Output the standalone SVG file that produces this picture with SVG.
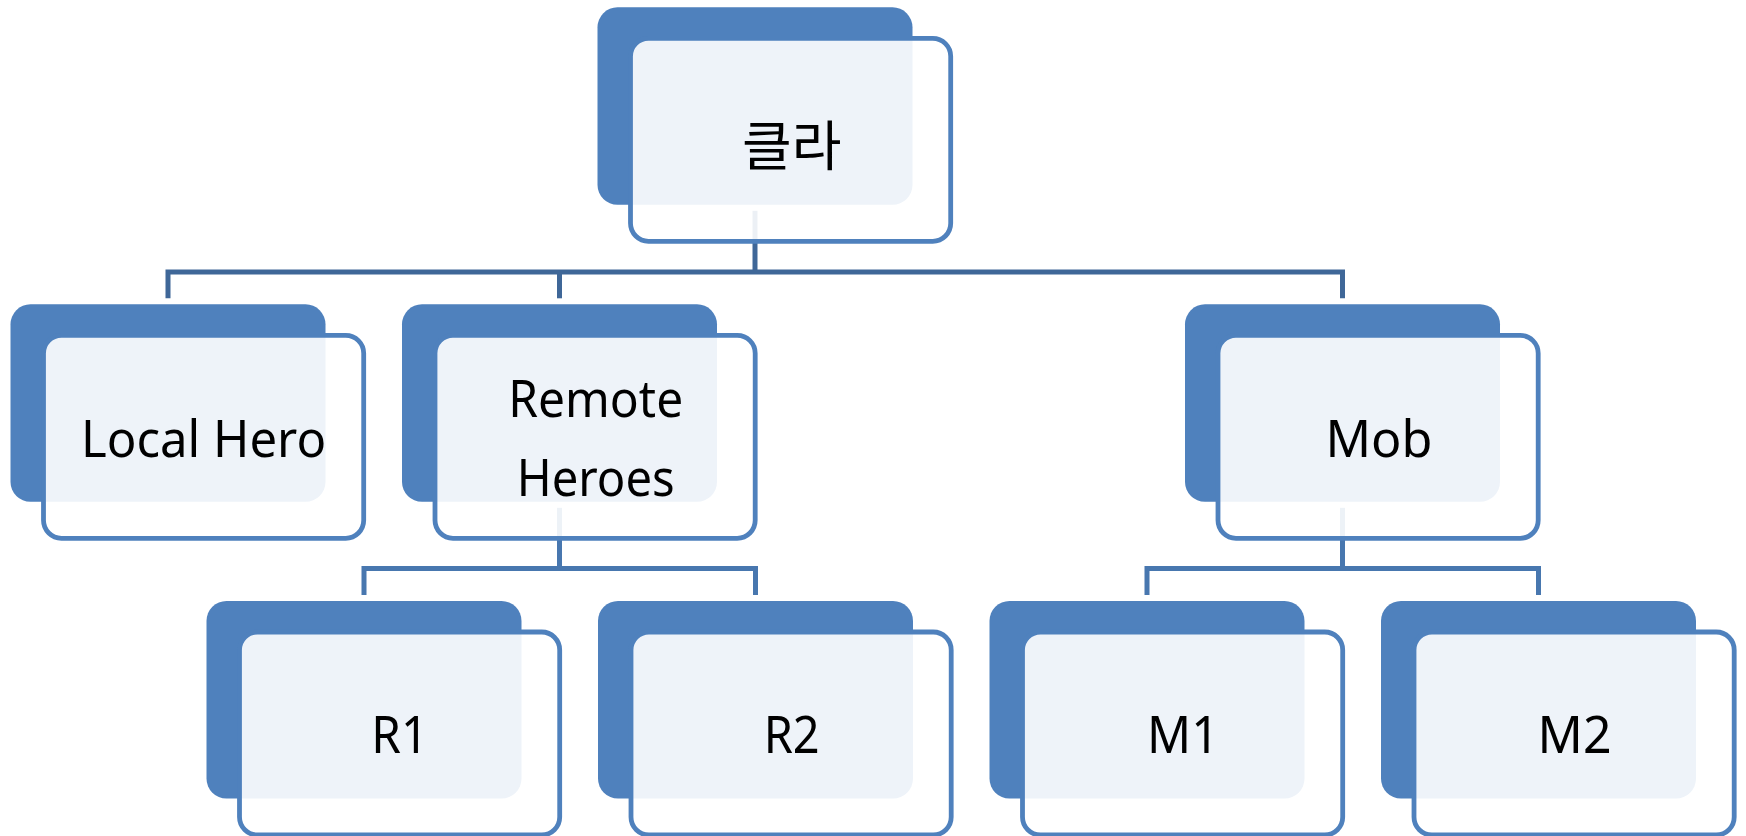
<svg xmlns="http://www.w3.org/2000/svg" width="1746" height="836" viewBox="0 0 1746 836">
  <style>
    .back { fill: #4F81BD; }
    .front { fill: #FFFFFF; fill-opacity: 0.9; stroke: #4F81BD; stroke-width: 4.8; }
    .label { font-family: "Noto Sans", "Open Sans", sans-serif; font-size: 51px; fill: #000000; text-anchor: middle; }
    .label-kr { font-family: "Noto Sans CJK KR", "Noto Sans", sans-serif; font-size: 54px; fill: #000000; text-anchor: middle; }
    .conn { fill: none; stroke-width: 5; stroke-linejoin: miter; stroke-linecap: butt; }
    .conn-1 { stroke: #3F6798; }
    .conn-2 { stroke: #4877AF; }
  </style>

  <!-- connectors sit below the nodes so the translucent cards soften them -->
  <g id="connectors">
    <path class="conn conn-1" d="M755,210.8 V272"/>
    <path class="conn conn-1" d="M168,298.3 V272 H1342.5 V298.3"/>
    <path class="conn conn-1" d="M559.5,272 V298.3"/>
    <path class="conn conn-2" d="M559.5,507.8 V568.5"/>
    <path class="conn conn-2" d="M364,595 V568.5 H755.5 V595"/>
    <path class="conn conn-2" d="M1342.5,507.8 V568.5"/>
    <path class="conn conn-2" d="M1147,595 V568.5 H1538.5 V595"/>
  </g>

  <g id="node-clara" transform="translate(597.5,7.3)">
    <rect class="back" width="315" height="197.5" rx="20"/>
    <rect class="front" x="33" y="31" width="320.2" height="203" rx="18"/>
    <text class="label-kr" x="194.2" y="158.5">클라</text>
  </g>

  <g id="node-local-hero" transform="translate(10.5,304.3)">
    <rect class="back" width="315" height="197.5" rx="20"/>
    <rect class="front" x="33" y="31" width="320.2" height="203" rx="18"/>
    <text class="label" x="193.1" y="152.4" textLength="245" lengthAdjust="spacingAndGlyphs">Local Hero</text>
  </g>

  <g id="node-remote-heroes" transform="translate(402,304.3)">
    <rect class="back" width="315" height="197.5" rx="20"/>
    <rect class="front" x="33" y="31" width="320.2" height="203" rx="18"/>
    <text class="label" x="193.7" y="113" textLength="175" lengthAdjust="spacingAndGlyphs">Remote</text>
    <text class="label" x="193.7" y="191.4" textLength="158" lengthAdjust="spacingAndGlyphs">Heroes</text>
  </g>

  <g id="node-mob" transform="translate(1185,304.3)">
    <rect class="back" width="315" height="197.5" rx="20"/>
    <rect class="front" x="33" y="31" width="320.2" height="203" rx="18"/>
    <text class="label" x="194" y="152.4" textLength="107" lengthAdjust="spacingAndGlyphs">Mob</text>
  </g>

  <g id="node-r1" transform="translate(206.5,601)">
    <rect class="back" width="315" height="197.5" rx="20"/>
    <rect class="front" x="33" y="31" width="320.2" height="203" rx="18"/>
    <text class="label" x="193.2" y="152.3" textLength="57" lengthAdjust="spacingAndGlyphs">R1</text>
  </g>

  <g id="node-r2" transform="translate(598,601)">
    <rect class="back" width="315" height="197.5" rx="20"/>
    <rect class="front" x="33" y="31" width="320.2" height="203" rx="18"/>
    <text class="label" x="193.7" y="152.3" textLength="56" lengthAdjust="spacingAndGlyphs">R2</text>
  </g>

  <g id="node-m1" transform="translate(989.5,601)">
    <rect class="back" width="315" height="197.5" rx="20"/>
    <rect class="front" x="33" y="31" width="320.2" height="203" rx="18"/>
    <text class="label" x="193.5" y="152.3" textLength="72" lengthAdjust="spacingAndGlyphs">M1</text>
  </g>

  <g id="node-m2" transform="translate(1381,601)">
    <rect class="back" width="315" height="197.5" rx="20"/>
    <rect class="front" x="33" y="31" width="320.2" height="203" rx="18"/>
    <text class="label" x="193.5" y="152.3" textLength="74" lengthAdjust="spacingAndGlyphs">M2</text>
  </g>
</svg>
